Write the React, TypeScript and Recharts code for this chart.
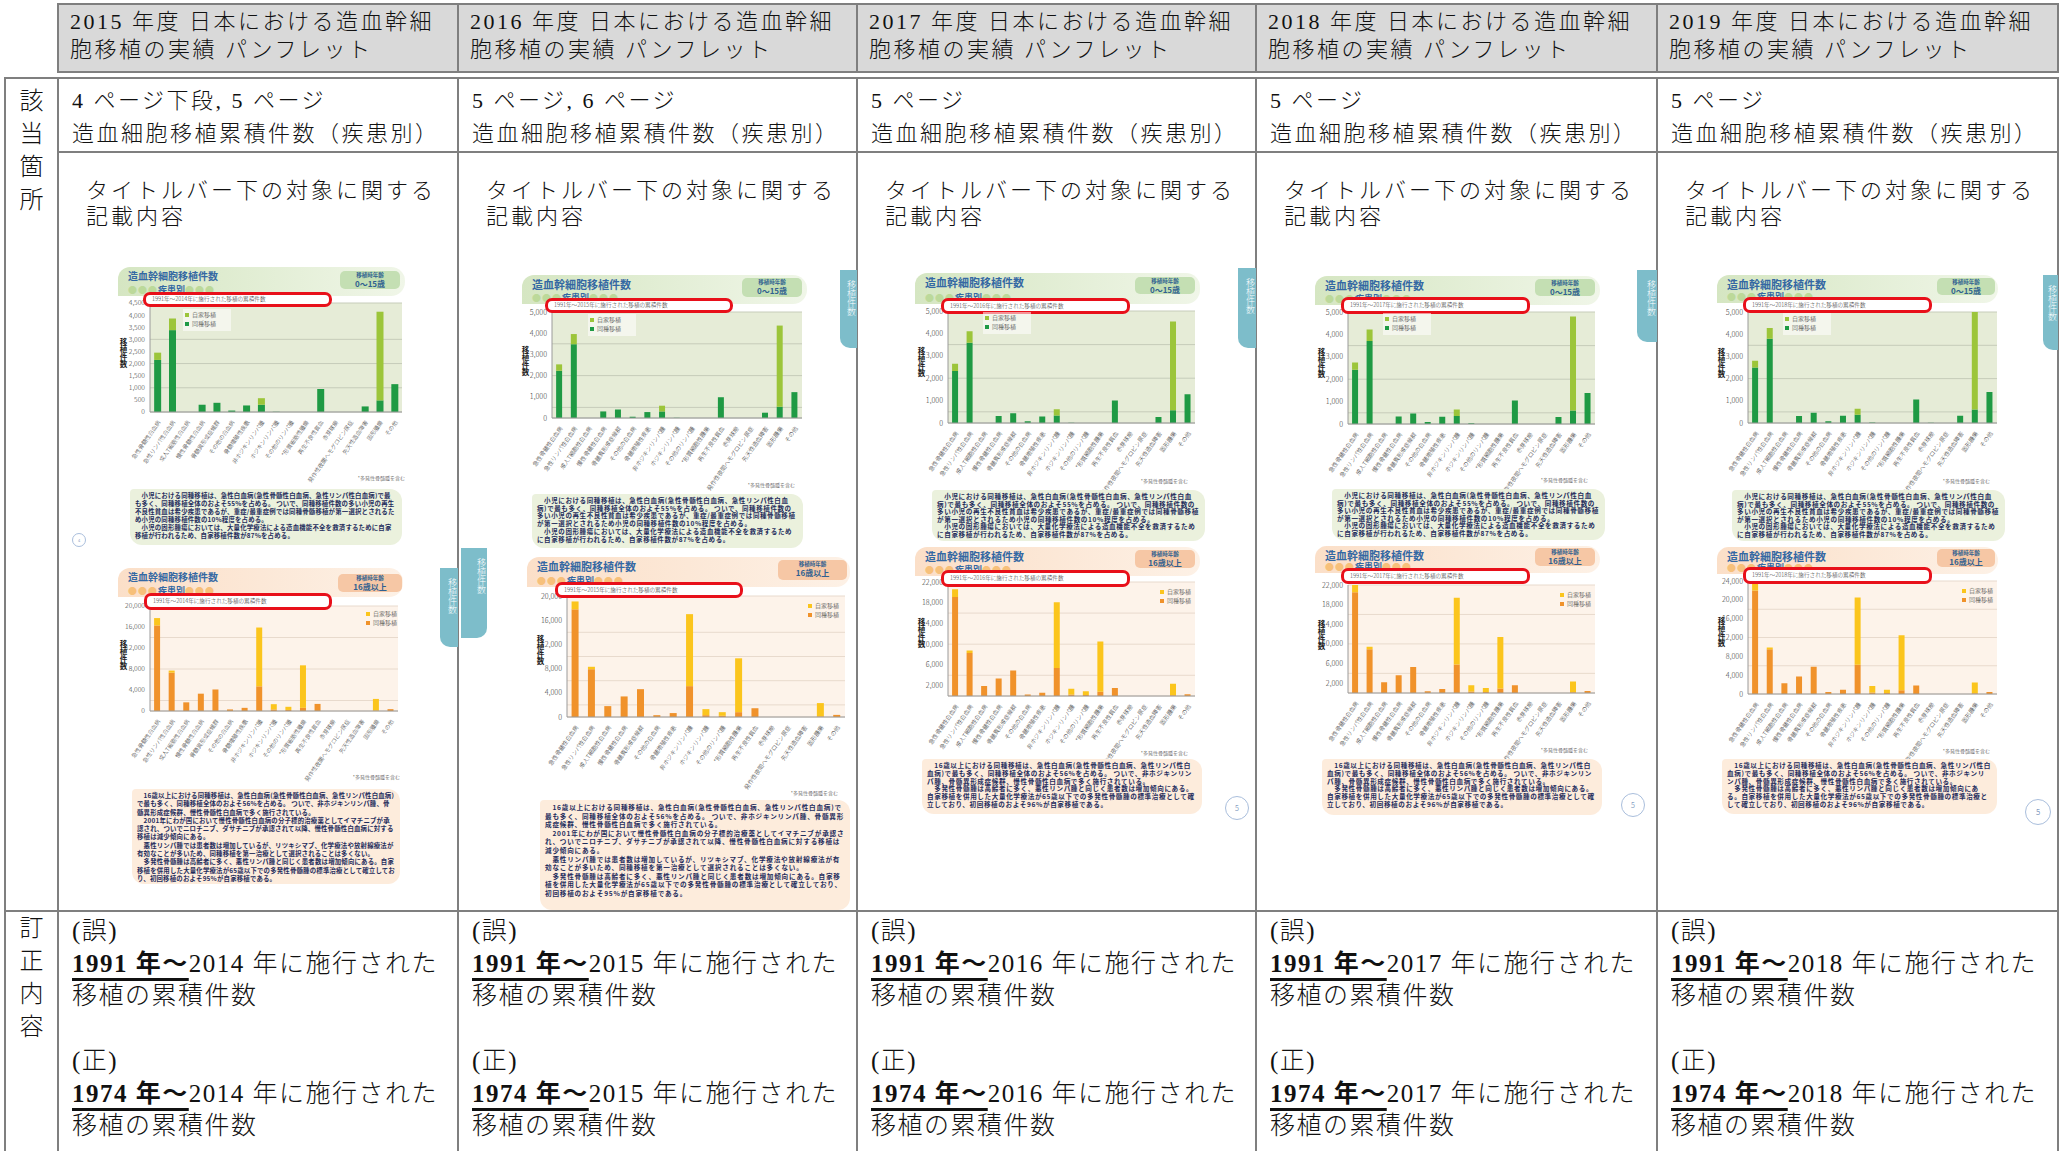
import React from 'react';
import { BarChart, Bar, XAxis, YAxis, CartesianGrid } from 'recharts';

const years = ['2015', '2016', '2017', '2018', '2019'];
const endYears = ['2014', '2015', '2016', '2017', '2018'];
const pageRefs = ['4 ページ下段, 5 ページ', '5 ページ, 6 ページ', '5 ページ', '5 ページ', '5 ページ'];

const categories = [
  '急性骨髄性白血病', '急性リンパ性白血病', '成人T細胞性白血病', '慢性骨髄性白血病', '骨髄異形成症候群',
  'その他の白血病', '骨髄増殖性疾患', '非ホジキンリンパ腫', 'ホジキンリンパ腫', 'その他のリンパ腫',
  '*形質細胞性腫瘍', '再生不良性貧血', '赤芽球癆', '発作性夜間ヘモグロビン尿症', '先天性造血障害',
  '固形腫瘍', 'その他',
];

// 0〜15歳 (同種 / 自家)
const child2015Allo = [2150, 3380, 0, 300, 380, 60, 270, 300, 10, 0, 0, 950, 0, 0, 230, 480, 1150];
const child2015Auto = [300, 480, 0, 0, 0, 0, 0, 270, 0, 0, 0, 0, 0, 0, 0, 3660, 0];
const child2016Allo = [2230, 3480, 0, 310, 400, 60, 280, 310, 10, 0, 0, 980, 0, 0, 250, 530, 1220];
const child2016Auto = [300, 480, 0, 0, 0, 0, 0, 270, 0, 0, 0, 0, 0, 0, 0, 3830, 0];
const child2017Allo = [2320, 3580, 0, 310, 440, 80, 290, 340, 10, 0, 0, 1010, 0, 0, 270, 570, 1280];
const child2017Auto = [320, 520, 0, 0, 0, 0, 0, 270, 0, 0, 0, 0, 0, 0, 0, 3960, 0];
const child2018Allo = [2420, 3700, 0, 330, 470, 90, 320, 360, 30, 0, 0, 1050, 0, 0, 310, 600, 1380];
const child2018Auto = [330, 520, 0, 0, 0, 0, 0, 290, 0, 0, 0, 0, 0, 0, 0, 4200, 0];
const child2019Allo = [2500, 3800, 0, 320, 460, 80, 330, 370, 20, 0, 0, 1060, 10, 0, 330, 610, 1400];
const child2019Auto = [300, 480, 0, 0, 0, 0, 0, 270, 0, 0, 0, 0, 0, 0, 0, 4390, 0];

// 16歳以上 (同種 / 自家)
const adult2015Allo = [16300, 7300, 1650, 3300, 4100, 300, 600, 4700, 300, 200, 600, 1350, 0, 0, 0, 100, 350];
const adult2015Auto = [1400, 400, 0, 0, 0, 0, 0, 11200, 1000, 600, 8100, 0, 0, 0, 0, 2200, 0];
const adult2016Allo = [17800, 7900, 1800, 3400, 4600, 300, 650, 5100, 300, 200, 800, 1450, 0, 0, 0, 100, 350];
const adult2016Auto = [1300, 400, 0, 0, 0, 0, 0, 11900, 1000, 600, 8900, 0, 0, 0, 0, 2200, 0];
const adult2017Allo = [19100, 8300, 1950, 3400, 4900, 300, 650, 5400, 300, 200, 800, 1550, 0, 0, 0, 150, 350];
const adult2017Auto = [1500, 500, 0, 0, 0, 0, 0, 12700, 1100, 700, 9700, 0, 0, 0, 0, 2200, 0];
const adult2018Allo = [20500, 8900, 2200, 3600, 5300, 350, 800, 5800, 300, 200, 900, 1600, 0, 0, 0, 150, 400];
const adult2018Auto = [1500, 500, 0, 0, 0, 0, 0, 13600, 1300, 800, 10500, 0, 0, 0, 0, 2200, 0];
const adult2019Allo = [22000, 9500, 2300, 3700, 5800, 400, 900, 6200, 300, 200, 800, 1800, 0, 0, 0, 150, 450];
const adult2019Auto = [2000, 400, 0, 0, 0, 0, 0, 14300, 1400, 700, 11700, 0, 0, 0, 0, 2300, 0];

const ticks4500 = [0, 500, 1000, 1500, 2000, 2500, 3000, 3500, 4000, 4500];
const ticks5000 = [0, 500, 1000, 1500, 2000, 2500, 3000, 3500, 4000, 4500, 5000];
const ticks20000 = [0, 2000, 4000, 6000, 8000, 10000, 12000, 14000, 16000, 18000, 20000];
const ticks22000 = [...ticks20000, 22000];
const ticks24000 = [...ticks22000, 24000];

const childNote =
  '　小児における同種移植は、急性白血病(急性骨髄性白血病、急性リンパ性白血病)で最も多く、同種移植全体のおよそ55%を占める。 ついで、同種移植件数の多い小児の再生不良性貧血は希少疾患であるが、重症/最重症例では同種骨髄移植が第一選択とされるため小児の同種移植件数の10%程度を占める。\n　小児の固形腫瘍においては、大量化学療法による造血機能不全を救済するために自家移植が行われるため、自家移植件数が87%を占める。';
const adultNoteLong =
  '　16歳以上における同種移植は、急性白血病(急性骨髄性白血病、急性リンパ性白血病)で最も多く、同種移植全体のおよそ56%を占める。 ついで、非ホジキンリンパ腫、骨髄異形成症候群、慢性骨髄性白血病で多く施行されている。\n　2001年にわが国において慢性骨髄性白血病の分子標的治療薬としてイマチニブが承認され、ついでニロチニブ、ダサチニブが承認されて以降、慢性骨髄性白血病に対する移植は減少傾向にある。\n　悪性リンパ腫では患者数は増加しているが、リツキシマブ、化学療法や放射線療法が有効なことが多いため、同種移植を第一治療として選択されることは多くない。\n　多発性骨髄腫は高齢者に多く、悪性リンパ腫と同じく患者数は増加傾向にある。自家移植を併用した大量化学療法が65歳以下での多発性骨髄腫の標準治療として確立しており、初回移植のおよそ95%が自家移植である。';
const adultNoteShort =
  '　16歳以上における同種移植は、急性白血病(急性骨髄性白血病、急性リンパ性白血病)で最も多く、同種移植全体のおよそ56%を占める。 ついで、非ホジキンリンパ腫、骨髄異形成症候群、慢性骨髄性白血病で多く施行されている。\n　多発性骨髄腫は高齢者に多く、悪性リンパ腫と同じく患者数は増加傾向にある。自家移植を併用した大量化学療法が65歳以下での多発性骨髄腫の標準治療として確立しており、初回移植のおよそ96%が自家移植である。';

type Box = [number, number, number, number];
interface Geo {
  band: Box; badge: Box; red: Box; plot: Box; text: Box;
  foot: [number, number]; legend: [number, number];
  tickFont: number; labelFont: number; textFont: number; textLh: number; textLs: number; titleFont: number;
}

const green = { allo: '#1f9a44', auto: '#9cc53a', bg: '#e6ecd7', grid: '#c6ccba', band1: '#d5e6c2', band2: '#f0f6e8', badge: '#c4dfb3', dot: '#bcd99a', bubble: '#ebf1dd' };
const orange = { allo: '#f0922b', auto: '#fbc51d', bg: '#fdf3ea', grid: '#e8dacd', band1: '#fbdfc8', band2: '#fdf1e6', badge: '#f6c7a5', dot: '#f7c07a', bubble: '#fdecdc' };

const small = { tickFont: 6.8, labelFont: 5.7, textFont: 6.4, textLs: 0.2, titleFont: 10 };
const big = { tickFont: 7.2, labelFont: 5.9, textFont: 6.6, textLs: 0.6, titleFont: 11 };

const geo2015Top: Geo = { ...small, band: [118, 267, 405, 292], badge: [340, 271, 400, 289], red: [143, 292, 332, 307], plot: [150, 303, 402, 412], foot: [405, 478], text: [130, 489, 402, 545], legend: [183, 309], textLh: 7.9 };
const geo2015Bot: Geo = { ...small, band: [118, 568, 403, 593], badge: [338, 574, 402, 592], red: [144, 593, 332, 610], plot: [150, 606, 398, 711], foot: [400, 777], text: [132, 789, 400, 884], legend: [364, 608], textLh: 8.3 };
const geo2016Top: Geo = { ...big, band: [522, 275, 807, 300], badge: [742, 278, 802, 297], red: [545, 298, 733, 313], plot: [552, 312, 802, 418], foot: [795, 485], text: [532, 494, 803, 548], legend: [588, 314], textFont: 6.5, textLs: 0.6, textLh: 7.7 };
const geo2016Bot: Geo = { ...big, band: [527, 557, 850, 583], badge: [778, 560, 847, 580], red: [555, 582, 743, 598], plot: [567, 596, 845, 717], foot: [838, 793], text: [540, 800, 850, 910], legend: [806, 600], textFont: 6.6, textLs: 0.8, textLh: 8.6 };
const geo2017Top: Geo = { ...big, band: [915, 273, 1200, 300], badge: [1135, 277, 1195, 294], red: [941, 298, 1130, 314], plot: [948, 311, 1195, 423], foot: [1188, 481], text: [932, 490, 1205, 541], legend: [983, 312], textLh: 7.6 };
const geo2017Bot: Geo = { ...big, band: [915, 547, 1200, 572], badge: [1135, 550, 1195, 568], red: [941, 570, 1130, 587], plot: [948, 582, 1195, 696], foot: [1188, 753], text: [922, 759, 1202, 814], legend: [1158, 586], textLh: 7.8 };
const geo2018Top: Geo = { ...big, band: [1315, 276, 1600, 301], badge: [1535, 279, 1595, 296], red: [1341, 297, 1530, 314], plot: [1348, 312, 1595, 424], foot: [1588, 480], text: [1332, 489, 1605, 540], legend: [1383, 313], textLh: 7.6 };
const geo2018Bot: Geo = { ...big, band: [1315, 546, 1600, 569], badge: [1535, 548, 1595, 566], red: [1341, 568, 1530, 584], plot: [1348, 585, 1595, 693], foot: [1588, 750], text: [1322, 759, 1602, 815], legend: [1558, 589], textLh: 7.8 };
const geo2019Top: Geo = { ...big, band: [1717, 275, 1998, 299], badge: [1937, 278, 1995, 295], red: [1743, 297, 1932, 313], plot: [1748, 312, 1997, 423], foot: [1990, 481], text: [1732, 490, 2005, 541], legend: [1783, 313], textLh: 7.6 };
const geo2019Bot: Geo = { ...big, band: [1717, 547, 1998, 570], badge: [1937, 549, 1995, 567], red: [1743, 567, 1932, 584], plot: [1748, 581, 1997, 694], foot: [1990, 751], text: [1722, 759, 1997, 814], legend: [1960, 585], textLh: 7.8 };

const colX = [58, 458, 857, 1256, 1657, 2058];
const LINE = '#7f7f7f';
const SERIF = "'Liberation Serif', 'Noto Sans CJK JP', serif";
const SANS = "'Noto Sans CJK JP', 'Liberation Sans', sans-serif";

const rowsOf = (allo: number[], auto: number[]) =>
  categories.map((name, i) => ({ name, allo: allo[i], auto: auto[i] }));

const fmt = (v: number) => v.toLocaleString('en-US');

const abs = (x: number, y: number, w: number, h: number, extra: React.CSSProperties = {}): React.CSSProperties => ({
  position: 'absolute', left: x, top: y, width: w, height: h, ...extra,
});

const Panel = ({ g, pal, allo, auto, ticks, adult, endYear, note }: any) => {
  const YW = 32, MT = 6, MR = 2, XH = 90;
  const [px1, pt, px2, pb] = g.plot;
  const data = rowsOf(allo, auto);
  const max = ticks[ticks.length - 1];
  const [bx1, by1, bx2, by2] = g.band;
  const [gx1, gy1, gx2, gy2] = g.badge;
  const [rx1, ry1, rx2, ry2] = g.red;
  const [tx1, ty1, tx2, ty2] = g.text;
  return (
    <>
      <div style={abs(bx1, by1, bx2 - bx1, by2 - by1 + 4, { background: `linear-gradient(to right, ${pal.band1}, ${pal.band2})`, borderRadius: '12px 14px 14px 0' })} />
      <div style={abs(bx1 + 10, by1 + 2, 150, 14, { fontFamily: SANS, fontWeight: 700, fontSize: g.titleFont, lineHeight: '14px', color: '#3468a3', whiteSpace: 'nowrap' })}>造血幹細胞移植件数</div>
      <div style={abs(bx1 + 10, by2 - 8, 120, 12, { fontFamily: SANS, fontWeight: 700, fontSize: 9, lineHeight: '12px', color: '#3468a3', whiteSpace: 'nowrap' })}>
        <span style={{ color: pal.dot, letterSpacing: 1 }}>●●●</span>疾患別<span style={{ color: pal.dot, letterSpacing: 1 }}>●●●</span>
      </div>
      <div style={abs(gx1, gy1, gx2 - gx1, gy2 - gy1, { background: pal.badge, borderRadius: 5, fontFamily: SANS, color: '#2f5f90', textAlign: 'center', fontWeight: 700 })}>
        <div style={{ fontSize: 5.5, lineHeight: '7px', marginTop: 1 }}>移植時年齢</div>
        <div style={{ fontSize: 8, lineHeight: '9px' }}>{adult ? '16歳以上' : '0〜15歳'}</div>
      </div>
      <div style={abs(px1 - YW, pt - MT, px2 - px1 + YW + MR, pb - pt + MT + XH)}>
        <BarChart
          width={px2 - px1 + YW + MR}
          height={pb - pt + MT + XH}
          data={data}
          margin={{ top: MT, right: MR, left: 0, bottom: 0 }}
          barCategoryGap="28%"
          style={{ fontFamily: SANS }}
        >
          <CartesianGrid vertical={false} stroke={pal.grid} fill={pal.bg} fillOpacity={1} />
          <XAxis
            dataKey="name"
            interval={0}
            angle={-55}
            textAnchor="end"
            height={XH}
            tickLine={false}
            tickMargin={2}
            axisLine={{ stroke: '#9a9a9a' }}
            tick={{ fontSize: g.labelFont, fill: '#2a2a2a' }}
          />
          <YAxis
            width={YW}
            domain={[0, max]}
            ticks={ticks}
            allowDataOverflow
            tickFormatter={fmt}
            tickLine={false}
            tickSize={3}
            tickMargin={2}
            axisLine={{ stroke: '#9a9a9a' }}
            tick={{ fontSize: g.tickFont, fill: '#333' }}
          />
          <Bar dataKey="allo" stackId="s" fill={pal.allo} isAnimationActive={false} />
          <Bar dataKey="auto" stackId="s" fill={pal.auto} isAnimationActive={false} />
        </BarChart>
      </div>
      <div style={abs(px1 - 31, pt + (pb - pt) * 0.32, 9, 36, { fontFamily: SANS, fontWeight: 700, fontSize: 7.5, lineHeight: '9px', writingMode: 'vertical-rl', textOrientation: 'upright', color: '#222' })}>移植件数</div>
      <div style={abs(rx1, ry1, rx2 - rx1, ry2 - ry1, { boxSizing: 'border-box', border: '3px solid #e8101a', borderRadius: 7, background: '#fff', fontFamily: SANS, fontSize: 5.6, lineHeight: `${ry2 - ry1 - 6}px`, paddingLeft: 6, color: '#333', whiteSpace: 'nowrap' })}>
        1991年～{endYear}年に施行された移植の累積件数
      </div>
      <div style={abs(g.legend[0], g.legend[1], 44, 20, { fontFamily: SANS, fontSize: 6, lineHeight: '9px', color: '#333', background: adult ? 'transparent' : 'rgba(255,255,255,0.55)', padding: '1px 2px' })}>
        {[['自家移植', pal.auto], ['同種移植', pal.allo]].map(([label, c]) => (
          <div key={label} style={{ display: 'flex', alignItems: 'center', whiteSpace: 'nowrap' }}>
            <span style={{ display: 'inline-block', width: 4, height: 4, background: c, marginRight: 3 }} />
            {label}
          </div>
        ))}
      </div>
      <div style={abs(g.foot[0] - 80, g.foot[1] - 4, 80, 8, { fontFamily: SANS, fontSize: 5, lineHeight: '8px', textAlign: 'right', color: '#444' })}>*多発性骨髄腫を含む</div>
      <div style={abs(tx1, ty1, tx2 - tx1, ty2 - ty1, { boxSizing: 'border-box', background: pal.bubble, borderRadius: '4px 12px 12px 12px', padding: '3px 5px', fontFamily: SANS, fontWeight: 700, fontSize: g.textFont, letterSpacing: g.textLs, lineHeight: `${g.textLh}px`, color: '#1f2d5c', whiteSpace: 'pre-wrap', wordBreak: 'break-all' })}>
        {note}
      </div>
    </>
  );
};

const panels = [
  { g: geo2015Top, pal: green, allo: child2015Allo, auto: child2015Auto, ticks: ticks4500, adult: false, col: 0, note: childNote },
  { g: geo2015Bot, pal: orange, allo: adult2015Allo, auto: adult2015Auto, ticks: ticks20000, adult: true, col: 0, note: adultNoteLong },
  { g: geo2016Top, pal: green, allo: child2016Allo, auto: child2016Auto, ticks: ticks5000, adult: false, col: 1, note: childNote },
  { g: geo2016Bot, pal: orange, allo: adult2016Allo, auto: adult2016Auto, ticks: ticks20000, adult: true, col: 1, note: adultNoteLong },
  { g: geo2017Top, pal: green, allo: child2017Allo, auto: child2017Auto, ticks: ticks5000, adult: false, col: 2, note: childNote },
  { g: geo2017Bot, pal: orange, allo: adult2017Allo, auto: adult2017Auto, ticks: ticks22000, adult: true, col: 2, note: adultNoteShort },
  { g: geo2018Top, pal: green, allo: child2018Allo, auto: child2018Auto, ticks: ticks5000, adult: false, col: 3, note: childNote },
  { g: geo2018Bot, pal: orange, allo: adult2018Allo, auto: adult2018Auto, ticks: ticks22000, adult: true, col: 3, note: adultNoteShort },
  { g: geo2019Top, pal: green, allo: child2019Allo, auto: child2019Auto, ticks: ticks5000, adult: false, col: 4, note: childNote },
  { g: geo2019Bot, pal: orange, allo: adult2019Allo, auto: adult2019Auto, ticks: ticks24000, adult: true, col: 4, note: adultNoteShort },
];

const tabs: { box: Box; side: 'l' | 'r' }[] = [
  { box: [440, 568, 458, 647], side: 'r' },
  { box: [461, 548, 487, 638], side: 'l' },
  { box: [840, 270, 857, 348], side: 'r' },
  { box: [1238, 268, 1256, 348], side: 'r' },
  { box: [1637, 270, 1657, 342], side: 'r' },
  { box: [2043, 275, 2058, 350], side: 'r' },
];

const pageMarks = [
  { x: 79, y: 540, r: 7, n: '4' },
  { x: 1237, y: 808, r: 12, n: '5' },
  { x: 1633, y: 805, r: 12, n: '5' },
  { x: 2038, y: 812, r: 13, n: '5' },
];

const Txt = ({ x, cy, size, ls = 0, children, style = {} }: any) => (
  <div style={{ position: 'absolute', left: x, top: cy - size / 2, fontSize: size, lineHeight: `${size}px`, letterSpacing: ls, whiteSpace: 'nowrap', ...style }}>
    {children}
  </div>
);

const HL = (x1: number, x2: number, y: number) => <div style={abs(x1 - 1, y - 1, x2 - x1 + 2, 2, { background: LINE })} />;
const VL = (x: number, y1: number, y2: number) => <div style={abs(x - 1, y1 - 1, 2, y2 - y1 + 2, { background: LINE })} />;

const under: React.CSSProperties = { fontWeight: 700, textDecoration: 'underline', textDecorationThickness: 3, textUnderlineOffset: 6 };

export default function App() {
  return (
    <div style={{ position: 'absolute', left: 0, top: 0, width: 2065, height: 1151, background: '#fff', overflow: 'hidden', fontFamily: SERIF, fontWeight: 300, color: '#111' }}>
      {/* title row */}
      <div style={abs(58, 4, 2000, 68, { background: '#d9d9d9' })} />
      {HL(58, 2058, 4)}
      {HL(58, 2058, 72)}
      {colX.map((x) => <React.Fragment key={'h' + x}>{VL(x, 4, 72)}</React.Fragment>)}
      {years.map((y, i) => (
        <React.Fragment key={'ht' + y}>
          <Txt x={colX[i] + 12} cy={22} size={22} ls={2.5}>{y} 年度 日本における造血幹細</Txt>
          <Txt x={colX[i] + 12} cy={50} size={22} ls={2.5}>胞移植の実績 パンフレット</Txt>
        </React.Fragment>
      ))}

      {/* table grid */}
      {HL(5, 2058, 78)}
      {VL(5, 78, 1151)}
      {colX.map((x) => <React.Fragment key={'v' + x}>{VL(x, 78, 1151)}</React.Fragment>)}
      {HL(58, 2058, 152)}
      {HL(5, 2058, 911)}

      {['該', '当', '箇', '所'].map((c, i) => (
        <Txt key={'l1' + c} x={5} cy={101 + i * 33} size={24} style={{ width: 53, textAlign: 'center' }}>{c}</Txt>
      ))}
      {['訂', '正', '内', '容'].map((c, i) => (
        <Txt key={'l2' + c} x={5} cy={928 + i * 33} size={24} style={{ width: 53, textAlign: 'center' }}>{c}</Txt>
      ))}

      {years.map((y, i) => (
        <React.Fragment key={'r' + y}>
          <Txt x={colX[i] + 14} cy={101} size={22} ls={2.5}>{pageRefs[i]}</Txt>
          <Txt x={colX[i] + 14} cy={134} size={22} ls={2.5}>造血細胞移植累積件数（疾患別）</Txt>
          <Txt x={colX[i] + 28} cy={191} size={22} ls={3}>タイトルバー下の対象に関する</Txt>
          <Txt x={colX[i] + 28} cy={217} size={22} ls={3}>記載内容</Txt>

          <Txt x={colX[i] + 14} cy={930} size={25} ls={1.5}>(誤)</Txt>
          <Txt x={colX[i] + 14} cy={963} size={25} ls={1.5}>
            <span style={under}>1991 年〜</span>{endYears[i]} 年に施行された
          </Txt>
          <Txt x={colX[i] + 14} cy={995} size={25} ls={1.5}>移植の累積件数</Txt>
          <Txt x={colX[i] + 14} cy={1060} size={25} ls={1.5}>(正)</Txt>
          <Txt x={colX[i] + 14} cy={1093} size={25} ls={1.5}>
            <span style={under}>1974 年〜</span>{endYears[i]} 年に施行された
          </Txt>
          <Txt x={colX[i] + 14} cy={1125} size={25} ls={1.5}>移植の累積件数</Txt>
        </React.Fragment>
      ))}

      {/* pamphlet thumbnails */}
      {panels.map((p, i) => (
        <Panel key={'p' + i} {...p} endYear={endYears[p.col]} />
      ))}

      {tabs.map((t, i) => {
        const [x1, y1, x2, y2] = t.box;
        return (
          <div key={'t' + i} style={abs(x1, y1, x2 - x1, y2 - y1, { background: '#7dbdca', borderRadius: t.side === 'r' ? '0 0 0 10px' : '0 0 10px 0', overflow: 'hidden', fontFamily: SANS, fontSize: 9, lineHeight: '11px', color: '#fff', writingMode: 'vertical-rl', textOrientation: 'upright', paddingTop: 10, boxSizing: 'border-box' })}>
            移植件数
          </div>
        );
      })}

      {pageMarks.map((m, i) => (
        <div key={'m' + i} style={abs(m.x - m.r, m.y - m.r, m.r * 2, m.r * 2, { boxSizing: 'border-box', border: '1px solid #a9bedc', borderRadius: '50%', fontFamily: SANS, fontSize: m.r * 0.6, lineHeight: `${m.r * 2 - 2}px`, textAlign: 'center', color: '#5577aa' })}>
          {m.n}
        </div>
      ))}
    </div>
  );
}
